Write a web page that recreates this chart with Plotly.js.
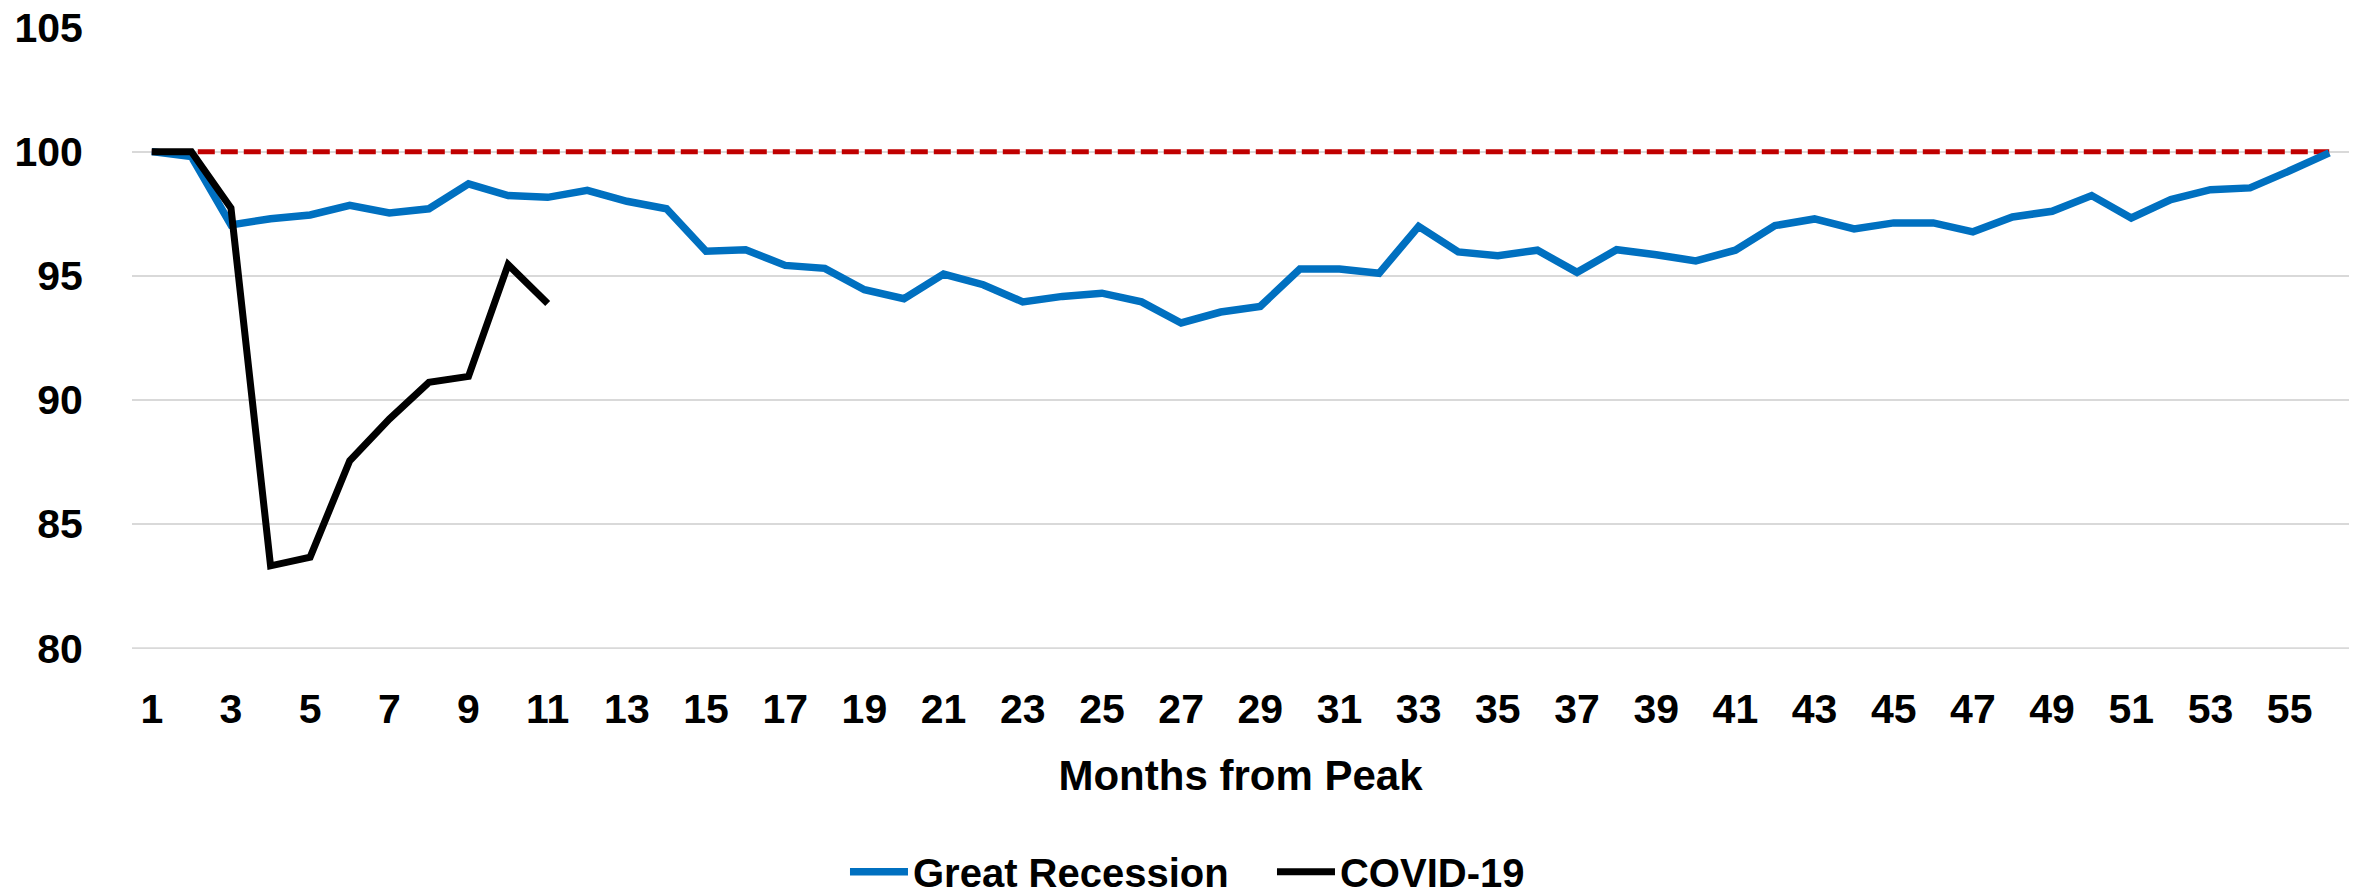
<!DOCTYPE html>
<html>
<head>
<meta charset="utf-8">
<script src="https://cdn.plot.ly/plotly-3.0.1.min.js"></script>
<style>
html,body{margin:0;padding:0;background:#fff;}
#chart{width:2354px;height:894px;}
</style>
</head>
<body>
<div id="chart"></div>
<script>
const months = Array.from({length:56}, (_, i) => String(i + 1));
const greatRecession = [100.0, 99.8, 97.05, 97.3, 97.45, 97.84, 97.53, 97.7, 98.7, 98.23,
  98.16, 98.44, 98.0, 97.7, 95.99, 96.05, 95.42, 95.3, 94.44, 94.08,
  95.07, 94.64, 93.95, 94.17, 94.3, 93.95, 93.1, 93.54, 93.77, 95.27,
  95.27, 95.1, 96.99, 95.96, 95.81, 96.03, 95.14, 96.05, 95.85, 95.6,
  96.03, 97.02, 97.29, 96.89, 97.13, 97.13, 96.77, 97.37, 97.6, 98.23,
  97.33, 98.07, 98.47, 98.54, 99.23, 99.95];
const covid19 = [100.0, 100.0, 97.73, 83.32, 83.67, 87.55, 89.23, 90.71, 90.95, 95.45, 93.88];
const referenceLevel = 100;
const seriesNames = ["Great Recession", "COVID-19"];
const yTicks = [80, 85, 90, 95, 100, 105];
const xTickLabels = months.filter((m, i) => i % 2 === 0);

const fam = "Liberation Sans, Arial, sans-serif";
const tickFont = {family: fam, size: 41, color: "#000", weight: "bold"};
const titleFont = {family: fam, size: 42, color: "#000", weight: "bold"};
const legendFont = {family: fam, size: 40, color: "#000", weight: "bold"};

const traces = [
  {
    x: months, y: months.map(() => referenceLevel), type: "scatter", mode: "lines",
    line: {color: "#C00000", width: 5, dash: "17px,6px"}, showlegend: false, hoverinfo: "skip"
  },
  {
    x: months, y: greatRecession, type: "scatter", mode: "lines", name: seriesNames[0],
    line: {color: "#0070C0", width: 7.5}
  },
  {
    x: months.slice(0, covid19.length), y: covid19, type: "scatter", mode: "lines", name: seriesNames[1],
    line: {color: "#000000", width: 7}
  }
];

const layout = {
  width: 2354, height: 894,
  margin: {l: 132, r: 5, t: 27, b: 245, autoexpand: false},
  paper_bgcolor: "#fff", plot_bgcolor: "#fff",
  font: tickFont,
  showlegend: true,
  legend: {
    orientation: "h", x: 0.3216, xanchor: "left", y: -0.358, yanchor: "middle",
    font: legendFont, itemwidth: 58, entrywidth: 354, traceorder: "normal"
  },
  shapes: [{
    type: "line", xref: "paper", x0: 0, x1: 1, yref: "y", y0: yTicks[0], y1: yTicks[0],
    line: {color: "#D9D9D9", width: 2}, layer: "below"
  }],
  xaxis: {
    type: "category", range: [-0.5, 55.5],
    tickmode: "array", tickvals: xTickLabels, ticktext: xTickLabels,
    showgrid: false, zeroline: false, showline: false,
    ticks: "outside", ticklen: 24, tickcolor: "rgba(0,0,0,0)",
    tickfont: tickFont,
    title: {text: "Months from Peak", font: titleFont, standoff: 29}
  },
  yaxis: {
    range: [79.97, 105.02], tickvals: yTicks, ticktext: yTicks.map(String),
    showgrid: true, gridcolor: "#D9D9D9", gridwidth: 2,
    zeroline: false, showline: false,
    ticks: "outside", ticklen: 40, tickcolor: "rgba(0,0,0,0)",
    tickfont: tickFont
  }
};

Plotly.newPlot("chart", traces, layout, {displayModeBar: false, staticPlot: true});
</script>
</body>
</html>
